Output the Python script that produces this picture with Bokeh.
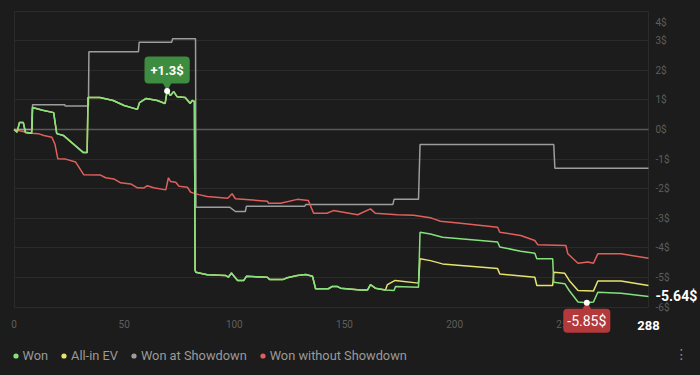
from bokeh.plotting import figure
from bokeh.models import (Label, Legend, LegendItem, SingleIntervalTicker, FixedTicker, Grid,
                          PrintfTickFormatter, Range1d, GlobalInlineStyleSheet)
from bokeh.embed import file_html
from bokeh.resources import INLINE

# ---------------- data (hand index, cumulative $) ----------------
won_x = [0, 1.4, 2.5, 4.2, 5.2, 8.0, 8.4, 13, 18, 19.4, 22.4, 31.5, 33.2, 33.6, 39, 45, 50, 56, 57,
         60, 65, 68.6, 69.5, 71, 72.5, 74, 77.7, 80, 80.9, 81.9, 82.2, 82.5, 87.7, 96, 97.3, 98.7,
         99.6, 101.5, 104.3, 105.5, 115, 116, 122, 124, 128.6, 132.4, 135.5, 136.9, 142.7, 144.5,
         146.7, 148.2, 157.3, 160.5, 161.8, 164, 168.6, 172.5, 173.2, 183.6, 184.3, 189, 194.5,
         211.8, 219.5, 220.5, 230, 236.4, 237.3, 244.5, 245, 250, 252, 256, 260, 263, 265, 275.5, 288]
won_y = [0, -0.09, 0.24, 0.24, -0.10, -0.13, 0.74, 0.65, 0.57, -0.14, -0.20, -0.78, -0.78, 1.08, 1.08,
         0.98, 0.81, 0.68, 0.91, 1.05, 0.98, 0.88, 1.30, 1.15, 1.28, 1.11, 1.08, 0.88, 0.98, 0.95,
         -4.75, -4.82, -4.91, -4.93, -4.99, -4.85, -4.93, -5.10, -5.10, -4.96, -4.99, -5.07, -5.07,
         -5.01, -4.93, -4.90, -4.96, -5.38, -5.38, -5.30, -5.30, -5.36, -5.42, -5.42, -5.24, -5.36,
         -5.42, -5.44, -5.30, -5.33, -3.47, -3.53, -3.64, -3.75, -3.80, -3.97, -4.11, -4.18, -4.37,
         -4.37, -5.16, -5.21, -5.44, -5.83, -5.85, -5.83, -5.50, -5.53, -5.64]

# All-in EV follows "Won" until the first all-in, then differs
ev_split = 169
ev_tail_x = [169.5, 173, 183.6, 184.3, 189, 194.5, 219.5, 220.5, 236.4, 237.3, 244.5, 245, 250, 252,
             256, 263, 265, 275.5, 288]
ev_tail_y = [-5.24, -5.10, -5.19, -4.37, -4.43, -4.54, -4.70, -4.88, -4.99, -5.27, -5.27, -4.82, -4.86,
             -5.10, -5.44, -5.46, -5.12, -5.12, -5.27]

sd_x = [0, 8.3, 8.4, 23, 23.3, 33.8, 34.0, 56.5, 56.8, 71.6, 72, 82.4, 82.6, 98, 100.5, 105, 105.5,
        132, 132.5, 172, 172.5, 183.6, 184.3, 245, 245.5, 288]
sd_y = [0, 0, 0.84, 0.84, 0.79, 0.79, 2.63, 2.63, 2.95, 2.95, 3.07, 3.07, -2.63, -2.63, -2.77, -2.77,
        -2.59, -2.59, -2.53, -2.53, -2.36, -2.36, -0.51, -0.51, -1.31, -1.31]

nsd_x = [0, 3, 8, 11, 13.6, 17.2, 18.6, 19.9, 23.4, 28, 31.7, 39.3, 41.6, 45.3, 48.4, 53, 56, 58.9,
         60.5, 63.4, 68.9, 70.1, 71.1, 73.4, 74.9, 78.7, 80.2, 81.5, 83.9, 87.7, 97, 99, 100.5, 115,
         115.5, 121, 128.6, 133.6, 136, 142, 145, 156, 161.8, 164, 174, 181.4, 189, 190.5, 193.6,
         202.7, 219.5, 220.5, 230, 236.4, 237.7, 250.5, 251.4, 256, 260.5, 263, 265, 275.5, 288]
nsd_y = [0, -0.05, -0.13, -0.14, -0.20, -0.26, -0.50, -0.99, -1.00, -1.10, -1.53, -1.54, -1.63, -1.67,
         -1.80, -1.84, -1.97, -1.98, -1.90, -1.97, -2.04, -1.63, -1.76, -1.78, -1.92, -1.95, -2.12,
         -2.15, -2.20, -2.26, -2.32, -2.17, -2.34, -2.42, -2.49, -2.49, -2.36, -2.40, -2.83, -2.83,
         -2.74, -2.88, -2.68, -2.83, -2.88, -2.90, -2.98, -3.02, -3.10, -3.17, -3.30, -3.47, -3.58,
         -3.75, -3.89, -3.92, -4.20, -4.52, -4.48, -4.52, -4.20, -4.20, -4.35]

series_names = ["Won", "All-in EV", "Won at Showdown", "Won without Showdown"]
y_min, y_max = -6, 4
x_tick_step = 50

ev_x = [x for x in won_x if x < ev_split] + ev_tail_x
ev_y = [y for x, y in zip(won_x, won_y) if x < ev_split] + ev_tail_y

# ---------------- layout (pixels) ----------------
W, H = 700, 375
PL, PR, PT, PB = 13.5, 648.0, 10.6, 306.6   # data-area edges on the canvas
x0, x1 = won_x[0], won_x[-1]
sx = (PR - PL) / (x1 - x0)
sy = (PB - PT) / (y_max - y_min)
xr = Range1d(x0 - PL / sx, x1 + (W - PR) / sx)
yr = Range1d(y_min - (H - PB) / sy, y_max + PT / sy)

# ---------------- style ----------------
BG = "#1b1c1b"
GRID = "#2a2b2a"
TICK = "#5e5e5e"
C_WON, C_EV, C_SD, C_NSD = "#86e07e", "#e6e36e", "#9d9d9d", "#e2605c"
FONT = "Roboto"

p = figure(width=W, height=H, x_range=xr, y_range=yr,
           output_backend="svg", toolbar_location=None, y_axis_location="right",
           min_border_left=0, min_border_right=0, min_border_top=0, min_border_bottom=0,
           background_fill_color=BG, border_fill_color=BG, outline_line_color=None,
           stylesheets=[GlobalInlineStyleSheet(css="body{background-color:%s;}" % BG)])

# axes drawn at the data-area edges
p.xaxis.fixed_location = y_min
p.xaxis.bounds = (x0, x1)
p.yaxis.fixed_location = x1
p.yaxis.bounds = (y_min, y_max)
p.xaxis.ticker = SingleIntervalTicker(interval=x_tick_step, num_minor_ticks=0)
p.yaxis.ticker = SingleIntervalTicker(interval=1, num_minor_ticks=0)
p.yaxis.formatter = PrintfTickFormatter(format="%d$")
p.yaxis.major_label_overrides = {y_max: ""}
for ax in (p.xaxis, p.yaxis):
    ax.axis_line_color = None
    ax.major_tick_line_color = None
    ax.minor_tick_line_color = None
    ax.major_tick_out = 0
    ax.major_tick_in = 0
    ax.major_label_text_color = TICK
    ax.major_label_text_font = FONT
    ax.major_label_text_font_size = "10px"
p.xaxis.major_label_standoff = 13
p.yaxis.major_label_standoff = 7

# grid limited to the data area
p.xgrid.ticker = FixedTicker(ticks=[x0, x1])
p.ygrid.ticker = SingleIntervalTicker(interval=1, num_minor_ticks=0)
p.ygrid.bounds = (y_min, y_max)
p.xgrid.bounds = (x0, x1)
for g in (p.xgrid, p.ygrid):
    g.grid_line_color = GRID
zero = Grid(dimension=1, ticker=FixedTicker(ticks=[0]), grid_line_color="#5a5a5a", grid_line_width=1.6)
p.add_layout(zero)
p.xgrid.cross_bounds = (y_min, y_max)
p.ygrid.cross_bounds = (x0, x1)
zero.cross_bounds = (x0, x1)

# series
p.line(sd_x, sd_y, line_color=C_SD, line_width=1.5)
p.line(nsd_x, nsd_y, line_color=C_NSD, line_width=1.5)
p.line(ev_x, ev_y, line_color=C_EV, line_width=1.5)
p.line(won_x, won_y, line_color=C_WON, line_width=1.5)

# legend (dots) - zero-size markers at each series' last point supply the legend glyphs
ends = [(won_x[-1], won_y[-1]), (ev_x[-1], ev_y[-1]), (sd_x[-1], sd_y[-1]), (nsd_x[-1], nsd_y[-1])]
leg_r = [p.scatter(x=[ex], y=[ey], size=0, fill_color=c, line_color=None)
         for (ex, ey), c in zip(ends, (C_WON, C_EV, C_SD, C_NSD))]
legend = Legend(items=[LegendItem(label=n, renderers=[r]) for n, r in zip(series_names, leg_r)],
                location=(8.5, 12.5), orientation="horizontal", padding=0, margin=0, spacing=9,
                glyph_width=13, glyph_height=13, label_height=13, label_standoff=1,
                label_text_color="#9a9a9a", label_text_font=FONT, label_text_font_size="12.8px",
                background_fill_alpha=0, border_line_alpha=0, click_policy="none")
p.add_layout(legend)

# peak / trough markers
i_max = max(range(len(won_y)), key=lambda i: won_y[i])
i_min = min(range(len(won_y)), key=lambda i: won_y[i])
px_, py_ = won_x[i_max], won_y[i_max]
qx_, qy_ = won_x[i_min], won_y[i_min]

p.scatter([px_], [py_ + 5.5 / sy], marker="inverted_triangle", size=9, fill_color="#3d8c40", line_color=None)
p.scatter([qx_], [qy_ - 4.0 / sy], marker="triangle", size=9, fill_color="#b3393b", line_color=None)
p.scatter([px_, qx_], [py_, qy_], size=6, fill_color="white", line_color=None)

p.add_layout(Label(x=px_, y=py_, text=f"{py_:+g}$", text_align="center", text_baseline="middle",
                   y_offset=21, text_color="white", text_font=FONT, text_font_style="bold",
                   text_font_size="13px", background_fill_color="#3d8c40", padding=6, border_radius=4))
p.add_layout(Label(x=qx_, y=qy_, text=f"{qy_:+g}$", text_align="center", text_baseline="middle",
                   y_offset=-18, text_color="white", text_font=FONT, text_font_size="14px",
                   background_fill_color="#b3393b", padding=4, border_radius=4))

# last-point labels
p.add_layout(Label(x=x1, y=won_y[-1], text=f"{won_y[-1]:+g}$", text_align="left",
                   text_baseline="middle", x_offset=7, text_color="white", text_font=FONT,
                   text_font_style="bold", text_font_size="14px"))
p.add_layout(Label(x=x1, y=y_min, text=f"{x1:g}", text_align="center",
                   text_baseline="middle", y_offset=-18, text_color="white", text_font=FONT,
                   text_font_style="bold", text_font_size="13px"))
# top tick label, kept inside like the reference
p.add_layout(Label(x=x1, y=y_max, text=f"{y_max}$", text_align="left", text_baseline="middle",
                   x_offset=7, y_offset=-11, text_color=TICK, text_font=FONT, text_font_size="10px"))
# menu icon
p.add_layout(Label(x=x1, y=y_min, text="⋮", text_align="center", text_baseline="middle",
                   x_offset=33, y_offset=-47, text_color="#8a8a8a", text_font="DejaVu Sans",
                   text_font_size="14px"))

html = file_html(p, INLINE)
open("out.html", "w").write(html)
